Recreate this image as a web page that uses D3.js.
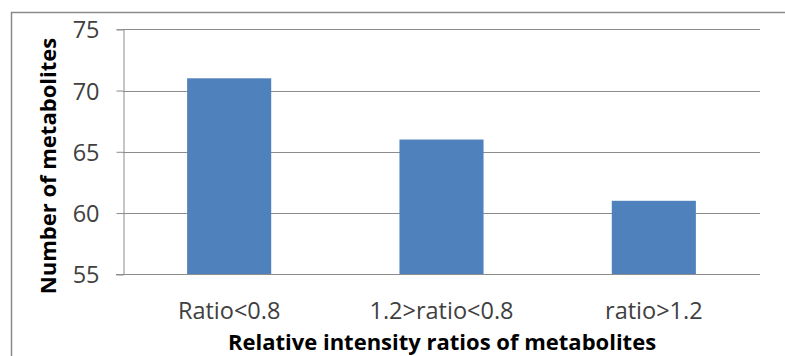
<!DOCTYPE html>
<html>
<head>
<meta charset="utf-8">
<script src="https://cdn.jsdelivr.net/npm/d3@7"></script>
<style>
  html, body { margin: 0; padding: 0; background: #fff; }
  svg { display: block; }
  text { font-family: "Open Sans", sans-serif; }
</style>
</head>
<body>
<svg id="chart" width="785" height="356"></svg>
<script>
// Metabolite counts per relative intensity ratio class
const categories = ["Ratio<0.8", "1.2>ratio<0.8", "ratio>1.2"];
const counts = [71, 66, 61];
const yTicks = [55, 60, 65, 70, 75];
const yTitle = "Number of metabolites";
const xTitle = "Relative intensity ratios of metabolites";

const W = 785, H = 356;
const plot = { left: 123, right: 760, top: 29.3, bottom: 274.3 };
const gridColor = "#8c8c8c";

const svg = d3.select("#chart");

// Outer chart frame (runs off the right and bottom edges)
svg.append("rect")
  .attr("x", 11.5).attr("y", 12.5)
  .attr("width", W + 10).attr("height", H + 10)
  .attr("fill", "none")
  .attr("stroke", "#8a8a8a")
  .attr("stroke-width", 1.5);

const x = d3.scaleBand()
  .domain(categories)
  .range([plot.left, plot.right])
  .padding(0);

const y = d3.scaleLinear()
  .domain([55, 75])
  .range([plot.bottom, plot.top]);

// Horizontal gridlines
svg.append("g")
  .selectAll("line")
  .data(yTicks.filter(v => v > 55))
  .join("line")
  .attr("x1", plot.left).attr("x2", plot.right)
  .attr("y1", d => Math.round(y(d)) + 0.5)
  .attr("y2", d => Math.round(y(d)) + 0.5)
  .attr("stroke", gridColor)
  .attr("stroke-width", 1);

// Bars
const barFrac = 0.396;
svg.append("g")
  .selectAll("rect")
  .data(categories.map((c, i) => ({ c, v: counts[i] })))
  .join("rect")
  .attr("x", d => x(d.c) + x.bandwidth() * (1 - barFrac) / 2)
  .attr("width", x.bandwidth() * barFrac)
  .attr("y", d => y(d.v))
  .attr("height", d => y(55) - y(d.v))
  .attr("fill", "#4f81bd");

// Y axis
const yAxis = svg.append("g")
  .attr("transform", `translate(${plot.left + 0.5},0)`)
  .call(d3.axisLeft(y).tickValues(yTicks).tickSize(7).tickPadding(17).tickFormat(d3.format("d")));
yAxis.select(".domain").attr("stroke", gridColor);
yAxis.selectAll(".tick line").attr("stroke", gridColor);
yAxis.selectAll(".tick text")
  .attr("fill", "#404040")
  .attr("dy", "0.36em")
  .style("font-size", "23.5px")
  .style("font-family", "'Open Sans', sans-serif");

// X axis baseline (no category ticks)
const xAxis = svg.append("g")
  .attr("transform", `translate(0,${Math.round(plot.bottom) + 0.5})`)
  .call(d3.axisBottom(x).tickSize(0));
xAxis.select(".domain").remove();
svg.append("line")
  .attr("x1", plot.left - 7).attr("x2", plot.right)
  .attr("y1", Math.round(plot.bottom) + 0.5).attr("y2", Math.round(plot.bottom) + 0.5)
  .attr("stroke", gridColor);
xAxis.selectAll(".tick text")
  .attr("fill", "#404040")
  .attr("y", 44)
  .attr("dy", 0)
  .style("font-size", "23.5px")
  .style("font-family", "'Open Sans', sans-serif");

// Axis titles
svg.append("text")
  .attr("transform", `translate(56,166) rotate(-90)`)
  .attr("text-anchor", "middle")
  .style("font-size", "22px")
  .style("font-weight", "bold")
  .attr("fill", "#000")
  .text(yTitle);

svg.append("text")
  .attr("x", 442).attr("y", 350)
  .attr("text-anchor", "middle")
  .style("font-size", "22px")
  .style("font-weight", "bold")
  .attr("fill", "#000")
  .text(xTitle);
</script>
</body>
</html>
